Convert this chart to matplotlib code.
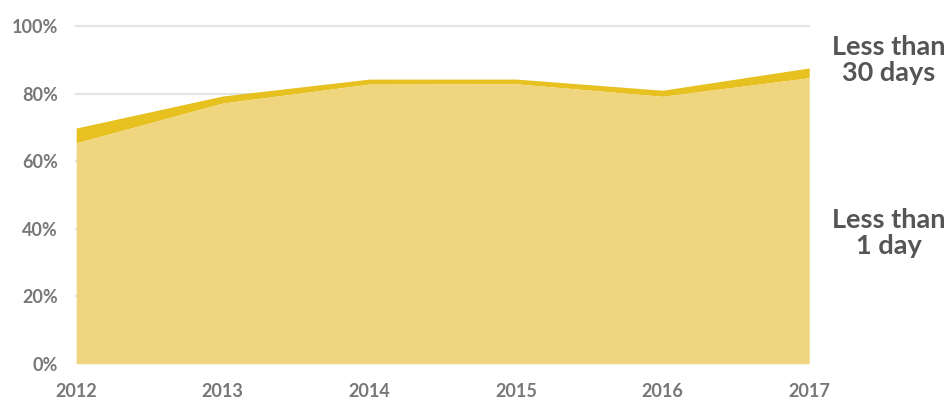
import matplotlib
matplotlib.use("Agg")
from matplotlib import pyplot as plt

years = [2012, 2013, 2014, 2015, 2016, 2017]
less_than_1_day = [65.4, 77.2, 82.8, 82.9, 79.2, 84.7]
less_than_30_days = [69.8, 79.3, 84.3, 84.3, 81.0, 87.6]
y_ticks = [0, 20, 40, 60, 80, 100]

light = "#f0d57f"
dark = "#e6c120"

fig = plt.figure(figsize=(9.52, 4.01), dpi=100)
ax = fig.add_axes([0.08, 0.093, 0.77, 0.842])

for t in y_ticks[1:]:
    ax.axhline(t, color="#e4e4e4", lw=1.5, zorder=0, clip_on=False)

ax.fill_between(years, less_than_1_day, less_than_30_days, color=dark, lw=0, zorder=2)
ax.fill_between(years, 0, less_than_1_day, color=light, lw=0, zorder=2)

ax.set_xlim(years[0], years[-1])
ax.set_ylim(0, 100)
ax.set_xticks(years)
ax.set_yticks(y_ticks)
ax.set_yticklabels([f"{t}%" for t in y_ticks])
for s in ax.spines.values():
    s.set_visible(False)
ax.tick_params(length=0, labelsize=13, labelcolor="#777777")
ax.tick_params(axis="x", pad=14)
ax.tick_params(axis="y", pad=13)
for lab in ax.get_xticklabels() + ax.get_yticklabels():
    lab.set_family("Lato")
    lab.set_fontweight("bold")

ax.text(1.109, 0.90, "Less than\n30 days", transform=ax.transAxes, ha="center", va="center",
        fontsize=19.5, color="#555555", family="Lato", fontweight="bold", linespacing=1.1)
ax.text(1.109, 0.388, "Less than\n1 day", transform=ax.transAxes, ha="center", va="center",
        fontsize=19.5, color="#555555", family="Lato", fontweight="bold", linespacing=1.1)

fig.savefig("out.png", dpi=100)
